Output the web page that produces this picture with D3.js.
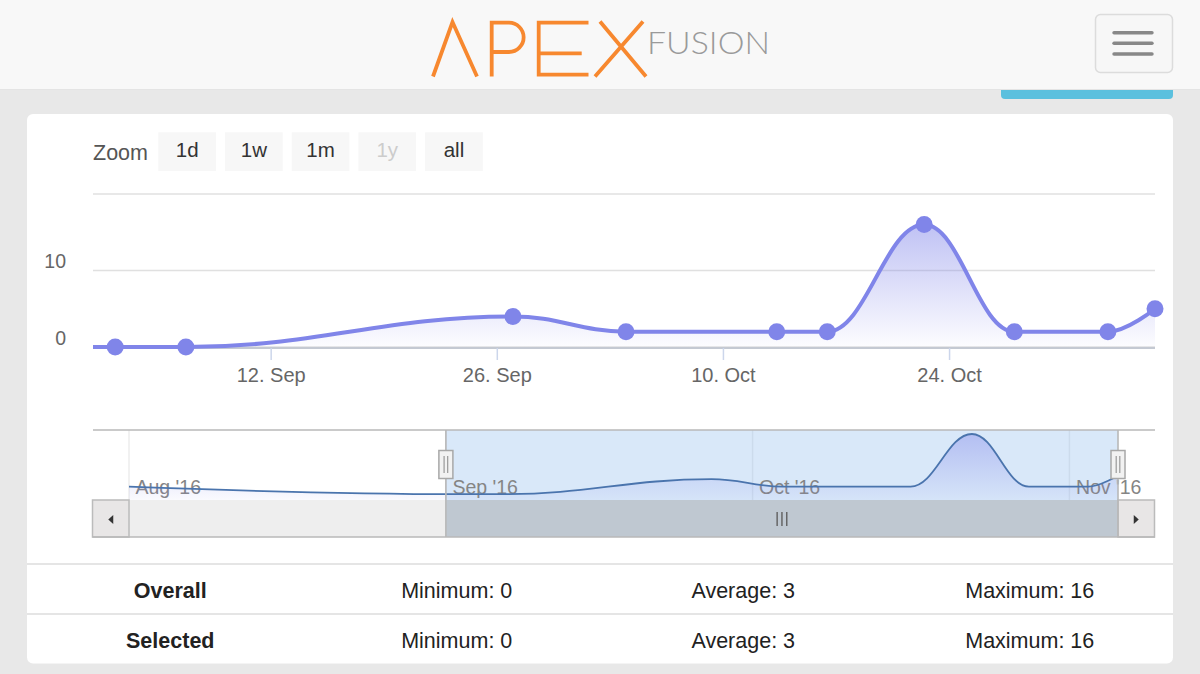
<!DOCTYPE html>
<html lang="en">
<head>
<meta charset="UTF-8">
<title>Apex Fusion - history</title>
<style>
  body { margin: 0; background: #e8e8e8; overflow: hidden; }
  svg { display: block; }
  text { font-family: "Liberation Sans", Arial, sans-serif; }
</style>
</head>
<body>
<svg id="page" width="1200" height="674"></svg>

<script src="https://d3js.org/d3.v7.min.js"></script>
<script>
  const parse = d3.timeParse("%Y-%m-%d %H:%M");

  // readings (the first one only shows up in the navigator)
  const pointDates = [
    "2016-08-01 00:00", "2016-09-02 09:00", "2016-09-06 18:00", "2016-09-27 00:00",
    "2016-10-04 00:00", "2016-10-13 08:00", "2016-10-16 11:00", "2016-10-22 11:00",
    "2016-10-28 01:00", "2016-11-02 20:00", "2016-11-05 18:00"
  ];
  const pointValues = [2, 0, 0, 4, 2, 2, 2, 16, 2, 2, 5];

  const selectedRange = ["2016-09-01 00:00", "2016-11-05 18:00"];
  const mainTicks = ["2016-09-12 00:00", "2016-09-26 00:00", "2016-10-10 00:00", "2016-10-24 00:00"];
  const yTicks = [0, 10, 20];
  const navTicks = ["2016-08-01 00:00", "2016-09-01 00:00", "2016-10-01 00:00", "2016-11-01 00:00"];

  const zoomButtons = ["1d", "1w", "1m", "1y", "all"];
  const disabledButton = "1y";

  const statLabels = ["Overall", "Selected"];
  const statMin = [0, 0];
  const statAvg = [3, 3];
  const statMax = [16, 16];

  const data = pointDates.map((d, i) => ({ date: parse(d), value: pointValues[i] }));
  const selStart = parse(selectedRange[0]), selEnd = parse(selectedRange[1]);

  // highcharts style spline (smoothing 1.5, flat at local extremes)
  function HCSpline(context) { this._context = context; }
  HCSpline.prototype = {
    areaStart() { this._line = 0; },
    areaEnd() { this._line = NaN; },
    lineStart() { this._x = []; this._y = []; },
    point(x, y) { this._x.push(+x); this._y.push(+y); },
    lineEnd() {
      const xs = this._x, ys = this._y, n = xs.length, c = this._context;
      if (n) {
        if (this._line) c.lineTo(xs[0], ys[0]); else c.moveTo(xs[0], ys[0]);
        const sm = 1.5, den = sm + 1;
        const lx = xs.slice(), ly = ys.slice(), rx = xs.slice(), ry = ys.slice();
        for (let i = 1; i < n - 1; i++) {
          const x = xs[i], y = ys[i], py = ys[i - 1], ny = ys[i + 1];
          let lcx = (sm * x + xs[i - 1]) / den, lcy = (sm * y + py) / den;
          let rcx = (sm * x + xs[i + 1]) / den, rcy = (sm * y + ny) / den;
          let corr = 0;
          if (rcx !== lcx) corr = ((rcy - lcy) * (rcx - x)) / (rcx - lcx) + y - rcy;
          lcy += corr; rcy += corr;
          if (lcy > py && lcy > y) { lcy = Math.max(py, y); rcy = 2 * y - lcy; }
          else if (lcy < py && lcy < y) { lcy = Math.min(py, y); rcy = 2 * y - lcy; }
          if (rcy > ny && rcy > y) { rcy = Math.max(ny, y); lcy = 2 * y - rcy; }
          else if (rcy < ny && rcy < y) { rcy = Math.min(ny, y); lcy = 2 * y - rcy; }
          lx[i] = lcx; ly[i] = lcy; rx[i] = rcx; ry[i] = rcy;
        }
        for (let i = 1; i < n; i++) c.bezierCurveTo(rx[i - 1], ry[i - 1], lx[i], ly[i], xs[i], ys[i]);
      }
      if (this._line || (this._line !== 0 && n === 1)) c.closePath();
      this._line = 1 - this._line;
    }
  };
  const curveHC = ctx => new HCSpline(ctx);

  const svg = d3.select("#page");
  const defs = svg.append("defs");

  function gradient(id, top, bottom) {
    const g = defs.append("linearGradient").attr("id", id)
      .attr("x1", 0).attr("y1", 0).attr("x2", 0).attr("y2", 1);
    g.append("stop").attr("offset", 0).attr("stop-color", "#8085e9").attr("stop-opacity", top);
    g.append("stop").attr("offset", 1).attr("stop-color", "#8085e9").attr("stop-opacity", bottom);
  }
  gradient("mainFill", 0.5, 0.02);
  gradient("navFill", 0.42, 0.04);

  // ---- header ----
  svg.append("rect").attr("width", 1200).attr("height", 89).attr("fill", "#f8f8f8");
  svg.append("line").attr("x1", 0).attr("x2", 1200).attr("y1", 89.5).attr("y2", 89.5)
    .attr("stroke", "#e4e4e4").attr("stroke-width", 1);
  svg.append("path").attr("d", "M1001,90 H1173 V95 Q1173,99 1169,99 H1005 Q1001,99 1001,95 Z")
    .attr("fill", "#5bc0de");

  const logo = svg.append("g").attr("fill", "none").attr("stroke", "#f7882f")
    .attr("stroke-width", 3.8);
  logo.append("path").attr("d", "M433,76.5 L452.5,22 L477,76.5").attr("stroke-linejoin", "miter");
  logo.append("path").attr("d", "M491.7,76.5 V22.7 H509 A14.6,14.6 0 0 1 509,52 H491.7");
  logo.append("path").attr("d", "M588.5,22.7 H538.7 V74.7 H588.5 M538.7,53.3 H581.7");
  logo.append("path").attr("d", "M600,21.5 L646,76.5 M643,21.5 L595,76.5");
  svg.append("text").attr("x", 647).attr("y", 54.3)
    .attr("font-size", 31.5).attr("font-weight", 300).attr("fill", "#9a9a9a")
    .attr("textLength", 123).attr("lengthAdjust", "spacingAndGlyphs")
    .style("font-family", "Lato, 'Open Sans', sans-serif")
    .text("FUSION");

  svg.append("rect").attr("x", 1095.5).attr("y", 14.5).attr("width", 77).attr("height", 58)
    .attr("rx", 5).attr("fill", "#f7f7f7").attr("stroke", "#dcdcdc").attr("stroke-width", 1.5);
  svg.append("g").selectAll("line").data([32.7, 43.3, 54]).join("line")
    .attr("x1", 1114).attr("x2", 1152).attr("y1", d => d).attr("y2", d => d)
    .attr("stroke", "#888").attr("stroke-width", 3.4).attr("stroke-linecap", "round");

  // ---- card ----
  svg.append("rect").attr("x", 27).attr("y", 114).attr("width", 1146).attr("height", 549.5)
    .attr("rx", 6).attr("fill", "#fff");

  // range selector buttons
  svg.append("text").attr("x", 93).attr("y", 159.5).attr("font-size", 21.5)
    .attr("fill", "#555").text("Zoom");
  const btn = svg.append("g").selectAll("g").data(zoomButtons).join("g")
    .attr("transform", (d, i) => `translate(${158.3 + i * 66.7},132.3)`);
  btn.append("rect").attr("width", 57.7).attr("height", 38.7).attr("fill", "#f7f7f7");
  btn.append("text").attr("x", 28.85).attr("y", 24.5).attr("text-anchor", "middle")
    .attr("font-size", 20.5).attr("fill", d => d === disabledButton ? "#cccccc" : "#333")
    .text(d => d);

  // ---- main chart ----
  const plotL = 93, plotR = 1155;
  const x = d3.scaleTime().domain([selStart, selEnd]).range([plotL, plotR]);
  const y = d3.scaleLinear().domain([0, 20]).range([347, 194]);

  svg.append("g").selectAll("line").data(yTicks).join("line")
    .attr("x1", plotL).attr("x2", plotR)
    .attr("y1", d => y(d)).attr("y2", d => y(d))
    .attr("stroke", "#e0e0e0").attr("stroke-width", 1.6);

  const yAxis = svg.append("g").attr("transform", "translate(66,0)")
    .call(d3.axisLeft(y).tickValues(yTicks.slice(0, -1)).tickSize(0).tickPadding(0));
  yAxis.select(".domain").remove();
  yAxis.selectAll("text").attr("dy", -3).attr("font-size", 19.5).attr("fill", "#666")
    .style("font-family", "'Liberation Sans', Arial, sans-serif");

  const xAxis = svg.append("g").attr("transform", `translate(0,${y(0) + 1})`)
    .call(d3.axisBottom(x).tickValues(mainTicks.map(parse))
      .tickFormat(d3.timeFormat("%-d. %b")).tickSize(12).tickPadding(8));
  xAxis.select(".domain").attr("d", `M${plotL},0H${plotR}`).attr("stroke", "#c4c9d2")
    .attr("stroke-width", 2.2);
  xAxis.selectAll(".tick line").attr("stroke", "#ccd6eb").attr("stroke-width", 1.5);
  xAxis.selectAll("text").attr("font-size", 20).attr("fill", "#666")
    .style("font-family", "'Liberation Sans', Arial, sans-serif");

  defs.append("clipPath").attr("id", "mainClip").append("rect")
    .attr("x", plotL).attr("y", 150).attr("width", plotR - plotL).attr("height", 210);

  const mainArea = d3.area().curve(curveHC)
    .x(d => x(d.date)).y0(y(0)).y1(d => y(d.value));
  const mainLine = d3.line().curve(curveHC)
    .x(d => x(d.date)).y(d => y(d.value));

  const plot = svg.append("g").attr("clip-path", "url(#mainClip)");
  plot.append("path").datum(data).attr("d", mainArea).attr("fill", "url(#mainFill)");
  plot.append("path").datum(data).attr("d", mainLine).attr("fill", "none")
    .attr("stroke", "#8085e9").attr("stroke-width", 4);

  svg.append("g").selectAll("circle")
    .data(data.filter(d => d.date >= selStart && d.date <= selEnd)).join("circle")
    .attr("cx", d => x(d.date)).attr("cy", d => y(d.value)).attr("r", 8.5)
    .attr("fill", "#8085e9");

  // ---- navigator ----
  const navTop = 430, navBottom = 500, navL = 129, navR = 1118;
  const navX = d3.scaleTime().domain(d3.extent(data, d => d.date)).range([navL, navR]);
  const navY = d3.scaleLinear().domain([d3.min(pointValues), d3.max(pointValues)]).range([494.2, 434]);
  const maskL = navX(selStart), maskR = navX(selEnd);

  svg.append("g").selectAll("line").data(navTicks.map(parse)).join("line")
    .attr("x1", d => navX(d)).attr("x2", d => navX(d))
    .attr("y1", navTop).attr("y2", navBottom)
    .attr("stroke", "#ececec").attr("stroke-width", 1.5);

  svg.append("rect").attr("x", maskL).attr("y", navTop)
    .attr("width", maskR - maskL).attr("height", navBottom - navTop)
    .attr("fill", "rgba(128,179,236,0.3)");

  svg.append("g").selectAll("text").data(navTicks.map(parse)).join("text")
    .attr("x", d => navX(d) + 6.5).attr("y", 493.5)
    .attr("font-size", 19.5).attr("fill", "#858585")
    .text(d3.timeFormat("%b '%y"));

  const navArea = d3.area().curve(curveHC)
    .x(d => navX(d.date)).y0(navBottom).y1(d => navY(d.value));
  const navLine = d3.line().curve(curveHC)
    .x(d => navX(d.date)).y(d => navY(d.value));
  svg.append("path").datum(data).attr("d", navArea).attr("fill", "url(#navFill)");
  svg.append("path").datum(data).attr("d", navLine).attr("fill", "none")
    .attr("stroke", "#4a74ad").attr("stroke-width", 1.8);

  // scrollbar
  const sbTop = 500, sbBottom = 537;
  svg.append("rect").attr("x", navL).attr("y", sbTop).attr("width", navR - navL)
    .attr("height", sbBottom - sbTop).attr("fill", "#eeeeee");
  svg.append("rect").attr("x", maskL).attr("y", sbTop).attr("width", maskR - maskL)
    .attr("height", sbBottom - sbTop).attr("fill", "#bfc8d1");
  svg.append("g").selectAll("line").data([-4.8, 0, 4.8]).join("line")
    .attr("x1", d => (maskL + maskR) / 2 + d).attr("x2", d => (maskL + maskR) / 2 + d)
    .attr("y1", 512).attr("y2", 526).attr("stroke", "#666").attr("stroke-width", 1.5);

  const buttons = [{ x0: 92.5, dir: -1 }, { x0: navR, dir: 1 }];
  buttons.forEach(b => {
    svg.append("rect").attr("x", b.x0).attr("y", sbTop).attr("width", 36.5)
      .attr("height", sbBottom - sbTop).attr("fill", "#e8e6e6")
      .attr("stroke", "#bbbbbb").attr("stroke-width", 1.5);
    const cx = b.x0 + 18.25, cy = 519.5;
    svg.append("path")
      .attr("d", `M${cx + 2.5 * b.dir},${cy} L${cx - 2.5 * b.dir},${cy - 4.5} L${cx - 2.5 * b.dir},${cy + 4.5} Z`)
      .attr("fill", "#333");
  });

  // outline
  const outline = svg.append("g").attr("stroke", "#b8b8b8").attr("stroke-width", 1.6).attr("fill", "none");
  outline.append("path").attr("d", `M${plotL},${navTop}H${plotR}`);
  outline.append("path").attr("d", `M${maskL},${navTop}V${sbBottom} M${maskR},${navTop}V${sbBottom}`);
  outline.append("path").attr("d", `M${92.5},${sbBottom}H${plotR}`);

  // handles
  const handle = svg.append("g").selectAll("g").data([maskL, maskR]).join("g")
    .attr("transform", d => `translate(${d},0)`);
  handle.append("rect").attr("x", -7).attr("y", 450.5).attr("width", 14).attr("height", 28)
    .attr("fill", "#f2f2f2").attr("stroke", "#a8a8a8").attr("stroke-width", 1.5);
  handle.append("path").attr("d", "M-1.8,456V473 M1.8,456V473")
    .attr("stroke", "#999").attr("stroke-width", 1.2);

  // ---- stats table ----
  const colW = 1146 / 4;
  const statRows = statLabels.map((label, i) =>
    [label, `Minimum: ${statMin[i]}`, `Average: ${statAvg[i]}`, `Maximum: ${statMax[i]}`]);

  svg.append("g").selectAll("line").data([564, 614]).join("line")
    .attr("x1", 27).attr("x2", 1173).attr("y1", d => d).attr("y2", d => d)
    .attr("stroke", "#dddddd").attr("stroke-width", 1.6);

  const row = svg.append("g").selectAll("g").data(statRows).join("g")
    .attr("transform", (d, i) => `translate(27,${598 + i * 50})`);
  row.selectAll("text").data(d => d).join("text")
    .attr("x", (d, i) => (i + 0.5) * colW).attr("text-anchor", "middle")
    .attr("font-size", 21.5).attr("fill", "#222")
    .attr("font-weight", (d, i) => i === 0 ? "bold" : "normal")
    .text(d => d);
</script>
</body>
</html>
